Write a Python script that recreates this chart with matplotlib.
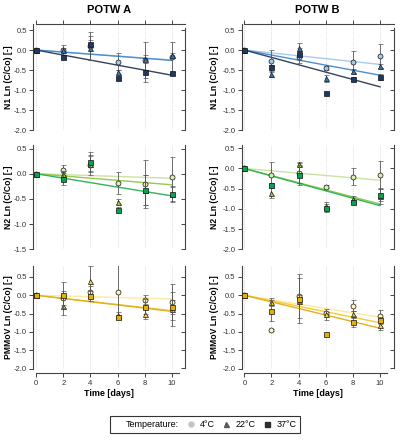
import matplotlib.pyplot as plt
import numpy as np
from matplotlib.lines import Line2D

plt.rcParams['font.family'] = ['Liberation Sans', 'DejaVu Sans']

days = [0, 2, 4, 6, 8, 10]
temps = ['4°C', '22°C', '37°C']
markers = ['o', '^', 's']

# N1 - POTW A (4, 22, 37 °C)
n1_a = [[0, 0.00, 0.10, -0.29, -0.25, -0.18],
        [0, 0.00, 0.04, -0.54, -0.22, -0.12],
        [0, -0.18, 0.15, -0.71, -0.55, -0.57]]
n1_a_err = [[0, 0.12, 0.35, 0.22, 0.45, 0.38],
            [0, 0.05, 0.30, 0.05, 0.10, 0.05],
            [0, 0.03, 0.10, 0.03, 0.25, 0.03]]
n1_a_slope = [-0.025, -0.026, -0.063]

# N1 - POTW B
n1_b = [[0, -0.27, -0.18, -0.46, -0.30, -0.14],
        [0, -0.60, 0.05, -0.71, -0.53, -0.41],
        [0, -0.42, -0.10, -1.07, -0.73, -0.67]]
n1_b_err = [[0, 0.28, 0.15, 0.05, 0.27, 0.30],
            [0, 0.08, 0.12, 0.08, 0.05, 0.05],
            [0, 0.05, 0.15, 0.02, 0.05, 0.08]]
n1_b_slope = [-0.036, -0.063, -0.092]

# N2 - POTW A
n2_a = [[0, 0.07, 0.18, -0.18, -0.20, -0.06],
        [0, 0.00, 0.20, -0.56, -0.33, -0.40],
        [0, -0.10, 0.23, -0.71, -0.33, -0.41]]
n2_a_err = [[0, 0.10, 0.20, 0.22, 0.48, 0.40],
            [0, 0.05, 0.15, 0.05, 0.30, 0.15],
            [0, 0.12, 0.20, 0.04, 0.30, 0.15]]
n2_a_slope = [-0.009, -0.022, -0.044]

# N2 - POTW B
n2_b = [[0, -0.15, -0.11, -0.45, -0.20, -0.17],
        [0, -0.60, 0.12, -0.93, -0.76, -0.69],
        [0, -0.41, -0.17, -0.98, -0.83, -0.65]]
n2_b_err = [[0, 0.30, 0.25, 0.03, 0.22, 0.35],
            [0, 0.12, 0.05, 0.10, 0.08, 0.20],
            [0, 0.05, 0.25, 0.10, 0.05, 0.15]]
n2_b_slope = [-0.029, -0.088, -0.092]

# PMMoV - POTW A
pm_a = [[0, -0.07, 0.10, 0.09, -0.12, -0.18],
        [0, -0.28, 0.38, -0.54, -0.50, -0.37],
        [0, 0.00, -0.02, -0.60, -0.31, -0.32]]
pm_a_err = [[0, 0.20, 0.15, 0.75, 0.12, 0.50],
            [0, 0.25, 0.42, 0.08, 0.15, 0.46],
            [0, 0.35, 0.15, 0.05, 0.20, 0.20]]
pm_a_slope = [-0.010, -0.042, -0.044]

# PMMoV - POTW B
pm_b = [[0, -0.95, -0.03, -0.49, -0.28, -0.56],
        [0, -0.18, -0.15, -0.52, -0.52, -0.80],
        [0, -0.42, -0.10, -1.06, -0.72, -0.68]]
pm_b_err = [[0, 0.03, 0.60, 0.03, 0.15, 0.17],
            [0, 0.10, 0.62, 0.15, 0.10, 0.15],
            [0, 0.28, 0.10, 0.03, 0.15, 0.10]]
pm_b_slope = [-0.060, -0.075, -0.090]

fill_colors = [['#a4c8ea', '#2f78c0', '#1f3864'],
               ['#d9ebb4', '#9acd32', '#00a550'],
               ['#fff3b4', '#f6d63c', '#e4b000']]
line_colors = [['#a9cde8', '#4a8fd0', '#34425f'],
               ['#cbe2a6', '#96c94a', '#2fb45a'],
               ['#fbeaa0', '#f2cd30', '#e2b020']]

panels = [[(n1_a, n1_a_err, n1_a_slope), (n1_b, n1_b_err, n1_b_slope)],
          [(n2_a, n2_a_err, n2_a_slope), (n2_b, n2_b_err, n2_b_slope)],
          [(pm_a, pm_a_err, pm_a_slope), (pm_b, pm_b_err, pm_b_slope)]]
ylabels = ['N1 Ln (C/Co) [-]', 'N2 Ln (C/Co) [-]', 'PMMoV Ln (C/Co) [-]']
ylims = [[(-2.0, 0.65), (-2.0, 0.65)],
         [(-1.5, 0.57), (-2.0, 0.58)],
         [(-2.0, 0.80), (-2.0, 0.80)]]

fig = plt.figure(figsize=(4, 4.4), dpi=100)
col_left = [0.0835, 0.604]
col_w = 0.38
label_x = [-0.135, -0.15]
row_pos = [(0.7045, 0.2409), (0.4334, 0.2370), (0.1625, 0.2330)]
spc = '#444444'

for r in range(3):
    for c in range(2):
        ax = fig.add_axes([col_left[c], row_pos[r][0], col_w, row_pos[r][1]])
        data, err, slope = panels[r][c]
        tt = np.array([0, 10])
        for i in range(3):
            ax.plot(tt, slope[i] * tt, color=line_colors[r][i], lw=1.0, zorder=2)
        for i in range(3):
            ax.errorbar(days, data[i], yerr=err[i], fmt=markers[i], ms=3.6,
                        mfc=fill_colors[r][i], mec='#111111', mew=0.5,
                        ecolor='#555555', elinewidth=0.6, capsize=1.8, capthick=0.6,
                        zorder=3 + i)
        y0, y1 = ylims[r][c]
        ax.set_xlim(-0.2, 11)
        ax.set_ylim(y0, y1)
        yt = np.arange(y0, 0.51, 0.5)
        ax.set_yticks(yt)
        ax.set_yticklabels(['%.1f' % v for v in yt])
        ax.set_xticks(days)
        ax.grid(axis='x', color='#cfcfcf', ls=':', lw=0.6)
        ax.tick_params(axis='y', direction='out', length=3, width=0.7, color=spc,
                       labelsize=5.5, labelcolor='#333333', pad=1.5)
        ax.spines['left'].set_color(spc)
        ax.spines['left'].set_linewidth(0.8)
        ax.spines['right'].set_visible(False)
        sec = ax.secondary_yaxis('right')
        sec.set_yticks(yt)
        sec.tick_params(direction='in', length=3, width=0.7, color=spc, labelright=False)
        sec.spines['right'].set_color(spc)
        sec.spines['right'].set_linewidth(0.8)
        if r == 0:
            sec.spines['right'].set_bounds(-2.0, 0.55)
            ax.spines['bottom'].set_visible(False)
            ax.spines['top'].set_color(spc)
            ax.spines['top'].set_linewidth(0.8)
            ax.spines['top'].set_bounds(0, 11)
            ax.xaxis.set_ticks_position('top')
            ax.tick_params(axis='x', direction='out', length=3, width=0.7, color=spc,
                           labeltop=False, labelbottom=False)
        elif r == 1:
            ax.spines['top'].set_visible(False)
            ax.spines['bottom'].set_visible(False)
            ax.tick_params(axis='x', length=0, labelbottom=False)
        else:
            ax.spines['top'].set_visible(False)
            ax.spines['bottom'].set_color(spc)
            ax.spines['bottom'].set_linewidth(0.8)
            ax.spines['bottom'].set_position(('outward', 3))
            ax.spines['bottom'].set_bounds(0, 10.5)
            ax.tick_params(axis='x', direction='out', length=3, width=0.7, color=spc,
                           labelsize=5.5, labelcolor='#333333', pad=2)
            ax.set_xlabel('Time [days]', fontsize=6.5, fontweight='bold', labelpad=2)
        ax.set_ylabel(ylabels[r], fontsize=6.2, fontweight='bold')
        ax.yaxis.set_label_coords(label_x[c], 0.5)

fig.text(0.2735, 0.978, 'POTW A', ha='center', va='center', fontsize=8, fontweight='bold')
fig.text(0.794, 0.978, 'POTW B', ha='center', va='center', fontsize=8, fontweight='bold')

leg_colors = ['#c4c4c4', '#5a5a5a', '#2e2e2e']
handles = [Line2D([], [], ls='none')]
for m, col in zip(markers, leg_colors):
    handles.append(Line2D([], [], ls='none', marker=m, ms=3.6, mfc=col, mec=col))
labels = ['Temperature:'] + temps
leg = fig.legend(handles, labels, ncol=4, loc='center', bbox_to_anchor=(0.513, 0.036),
                 frameon=True, fancybox=False, edgecolor='black', fontsize=6.5,
                 handlelength=0.6, handletextpad=0.7, columnspacing=1.0,
                 borderpad=0.45, borderaxespad=0)
leg.get_frame().set_linewidth(0.8)

fig.savefig('out.png', dpi=100)
